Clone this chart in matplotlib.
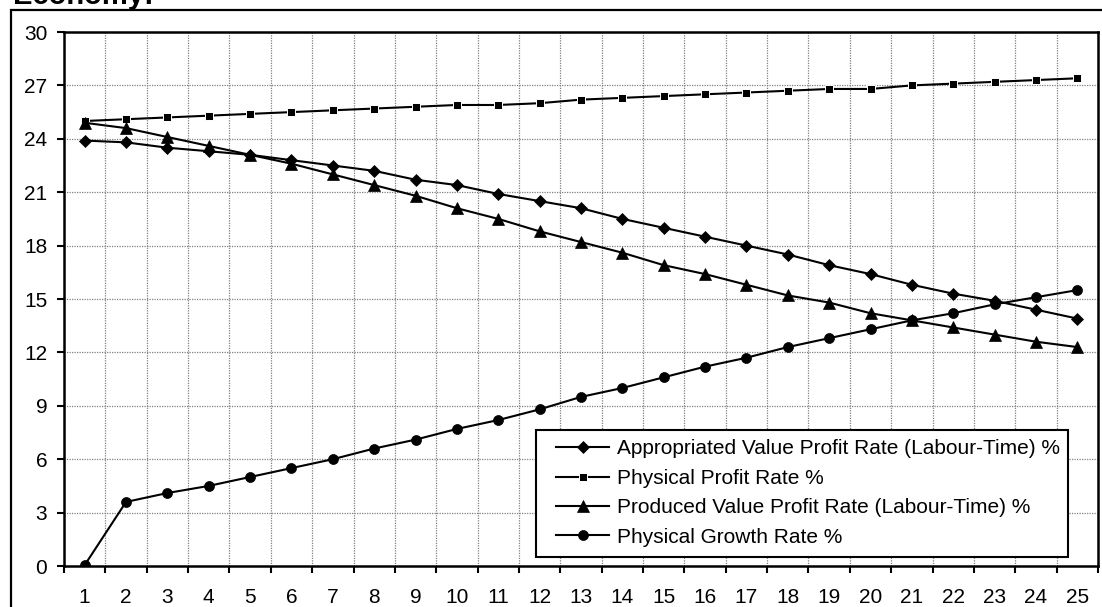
import matplotlib
matplotlib.use("Agg")
import matplotlib.pyplot as plt
from matplotlib.patches import Rectangle
from matplotlib.ticker import FixedLocator, NullFormatter

plt.rcParams['font.family'] = ['Liberation Sans', 'DejaVu Sans']

periods = list(range(1, 26))

appropriated_value = [23.9, 23.8, 23.5, 23.3, 23.1, 22.8, 22.5, 22.2, 21.7, 21.4,
                      20.9, 20.5, 20.1, 19.5, 19.0, 18.5, 18.0, 17.5, 16.9, 16.4,
                      15.8, 15.3, 14.9, 14.4, 13.9]
physical_profit = [25.0, 25.1, 25.2, 25.3, 25.4, 25.5, 25.6, 25.7, 25.8, 25.9,
                   25.9, 26.0, 26.2, 26.3, 26.4, 26.5, 26.6, 26.7, 26.8, 26.8,
                   27.0, 27.1, 27.2, 27.3, 27.4]
produced_value = [24.9, 24.6, 24.1, 23.6, 23.1, 22.6, 22.0, 21.4, 20.8, 20.1,
                  19.5, 18.8, 18.2, 17.6, 16.9, 16.4, 15.8, 15.2, 14.8, 14.2,
                  13.8, 13.4, 13.0, 12.6, 12.3]
physical_growth = [0.05, 3.6, 4.1, 4.5, 5.0, 5.5, 6.0, 6.6, 7.1, 7.7,
                   8.2, 8.8, 9.5, 10.0, 10.6, 11.2, 11.7, 12.3, 12.8, 13.3,
                   13.8, 14.2, 14.7, 15.1, 15.5]

labels = ["Appropriated Value Profit Rate (Labour-Time) %",
          "Physical Profit Rate %",
          "Produced Value Profit Rate (Labour-Time) %",
          "Physical Growth Rate %"]
y_ticks = list(range(0, 31, 3))

W, H = 1102, 607
FS = 15
fig = plt.figure(figsize=(W / 100, H / 100), dpi=100)


def fx(px):
    return px / W


def fy(py):
    return 1 - py / H


# chart frame and title
fig.patches.append(Rectangle((fx(11), -0.1), 1.2, fy(10) + 0.1,
                             transform=fig.transFigure, fill=False,
                             edgecolor='black', linewidth=1.6))
fig.text(fx(13), fy(4), "Economy:", fontsize=21, fontweight='bold',
         ha='left', va='baseline')

left, right, top, bottom = 64, 1098, 32, 566
ax = fig.add_axes([fx(left), fy(bottom), (right - left) / W, (bottom - top) / H])

common = dict(color='black', linewidth=1.5)
ax.plot(periods, appropriated_value, marker='D', markersize=6,
        markerfacecolor='black', markeredgecolor='black', markeredgewidth=0.5,
        label=labels[0], **common)
ax.plot(periods, physical_profit, marker='s', markersize=5.2,
        markerfacecolor='black', markeredgecolor='white', markeredgewidth=0.7,
        label=labels[1], **common)
ax.plot(periods, produced_value, marker='^', markersize=8,
        markerfacecolor='black', markeredgecolor='black', markeredgewidth=0.5,
        label=labels[2], **common)
ax.plot(periods, physical_growth, marker='o', markersize=7.2,
        markerfacecolor='black', markeredgecolor='black', markeredgewidth=0.5,
        label=labels[3], **common)

ax.set_xlim(0.5, 25.5)
ax.set_ylim(0, 30)
ax.xaxis.set_major_locator(FixedLocator([i + 0.5 for i in range(0, 26)]))
ax.xaxis.set_major_formatter(NullFormatter())
ax.xaxis.set_minor_locator(FixedLocator(periods))
ax.set_xticklabels([str(p) for p in periods], minor=True)
ax.tick_params(axis='x', which='major', length=5, width=1.5, direction='out')
ax.tick_params(axis='x', which='minor', length=0, pad=16, labelsize=FS)
ax.set_yticks(y_ticks)
ax.tick_params(axis='y', length=5, width=1.5, direction='out', pad=7, labelsize=FS)

ax.grid(True, which='major', color='#808080', linestyle=(0, (1, 1)), linewidth=0.9)
ax.set_axisbelow(True)
for s in ax.spines.values():
    s.set_linewidth(1.8)
    s.set_color('black')

# legend box
box_l, box_r, box_t, box_b = 535.7, 1068, 430, 556.7
ax.add_patch(Rectangle((fx(box_l), fy(box_b)), (box_r - box_l) / W, (box_b - box_t) / H,
                       transform=fig.transFigure, facecolor='white',
                       edgecolor='black', linewidth=1.5, zorder=4, clip_on=False))
leg = ax.legend(loc='upper left', bbox_to_anchor=(fx(556), fy(439.5)),
                bbox_transform=fig.transFigure, fontsize=FS, frameon=False,
                handlelength=2.55, handletextpad=0.37, labelspacing=0.5,
                borderpad=0, borderaxespad=0)
leg.set_zorder(5)

fig.savefig("out.png", dpi=100)
